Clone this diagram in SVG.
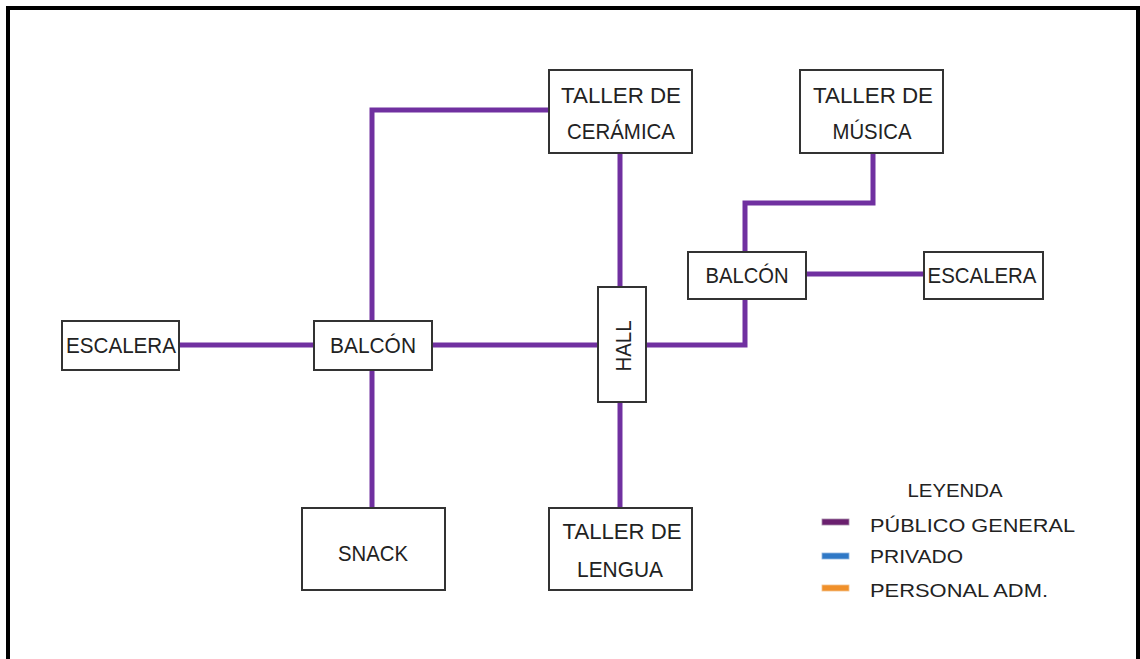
<svg xmlns="http://www.w3.org/2000/svg" width="1140" height="659" viewBox="0 0 1140 659">
<style>
.node rect{fill:#fff;stroke:#333;stroke-width:2}
.t{font-family:"Liberation Sans",Arial,sans-serif;font-size:22px;fill:#222;text-anchor:middle}
.lg{font-family:"Liberation Sans",Arial,sans-serif;font-size:18px;fill:#222}
.c{fill:none;stroke:#7030a0;stroke-width:5;stroke-linejoin:miter}
</style>
<rect x="0" y="0" width="1140" height="659" fill="#fff"/>
<rect x="8" y="8" width="1130" height="720" fill="none" stroke="#000" stroke-width="4"/>
<g id="connectors">
<path class="c" d="M179 345 H314"/>
<path class="c" d="M432 345 H598"/>
<path class="c" d="M372 321 V110 H549"/>
<path class="c" d="M372 370 V508"/>
<path class="c" d="M620 153 V287"/>
<path class="c" d="M620 402 V508"/>
<path class="c" d="M646 345 H745 V299"/>
<path class="c" d="M745 252 V203 H873 V153"/>
<path class="c" d="M806 274 H924"/>
</g>
<g id="n-ceramica" class="node"><rect x="549" y="70" width="143" height="83"/>
<text class="t" x="621" y="103" textLength="120" lengthAdjust="spacingAndGlyphs">TALLER DE</text>
<text class="t" x="621" y="139" textLength="108" lengthAdjust="spacingAndGlyphs">CERÁMICA</text></g>
<g id="n-musica" class="node"><rect x="800" y="70" width="143" height="83"/>
<text class="t" x="873" y="103" textLength="120" lengthAdjust="spacingAndGlyphs">TALLER DE</text>
<text class="t" x="872" y="139" textLength="79" lengthAdjust="spacingAndGlyphs">MÚSICA</text></g>
<g id="n-balcon-der" class="node"><rect x="688" y="252" width="118" height="47"/>
<text class="t" x="747" y="283" textLength="83" lengthAdjust="spacingAndGlyphs">BALCÓN</text></g>
<g id="n-escalera-der" class="node"><rect x="924" y="252" width="119" height="47"/>
<text class="t" x="982" y="283" textLength="109" lengthAdjust="spacingAndGlyphs">ESCALERA</text></g>
<g id="n-escalera-izq" class="node"><rect x="62" y="321" width="117" height="49"/>
<text class="t" x="121" y="353" textLength="110" lengthAdjust="spacingAndGlyphs">ESCALERA</text></g>
<g id="n-balcon-izq" class="node"><rect x="314" y="321" width="118" height="49"/>
<text class="t" x="373" y="353" textLength="86" lengthAdjust="spacingAndGlyphs">BALCÓN</text></g>
<g id="n-hall" class="node"><rect x="598" y="287" width="48" height="115"/>
<text class="t" transform="translate(631 346) rotate(-90)" x="0" y="0" textLength="51" lengthAdjust="spacingAndGlyphs">HALL</text></g>
<g id="n-snack" class="node"><rect x="302" y="508" width="143" height="82"/>
<text class="t" x="373" y="561" textLength="70" lengthAdjust="spacingAndGlyphs">SNACK</text></g>
<g id="n-lengua" class="node"><rect x="549" y="508" width="143" height="82"/>
<text class="t" x="622" y="539" textLength="119" lengthAdjust="spacingAndGlyphs">TALLER DE</text>
<text class="t" x="620" y="577" textLength="86" lengthAdjust="spacingAndGlyphs">LENGUA</text></g>
<g id="legend">
<text class="lg" x="955" y="497" text-anchor="middle" font-size="19" textLength="95" lengthAdjust="spacingAndGlyphs">LEYENDA</text>
<rect x="822" y="519" width="27" height="6" fill="#6a1f6e" stroke="#a58aa8" stroke-width="0.8"/>
<rect x="822" y="553" width="27" height="6" fill="#2f78c6" stroke="#8fb6e0" stroke-width="0.8"/>
<rect x="822" y="585" width="27" height="6" fill="#f0902a" stroke="#f3c08a" stroke-width="0.8"/>
<text class="lg" x="870" y="532" textLength="205" lengthAdjust="spacingAndGlyphs">PÚBLICO GENERAL</text>
<text class="lg" x="870" y="563" textLength="93" lengthAdjust="spacingAndGlyphs">PRIVADO</text>
<text class="lg" x="870" y="597" textLength="178" lengthAdjust="spacingAndGlyphs">PERSONAL ADM.</text>
</g>
</svg>
